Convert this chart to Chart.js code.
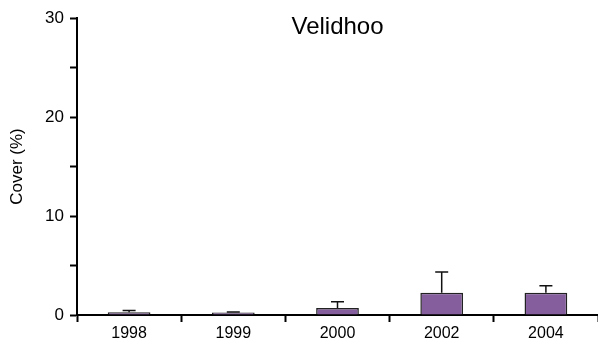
<!DOCTYPE html>
<html>
<head>
<meta charset="utf-8">
<script src="https://cdn.jsdelivr.net/npm/chart.js@4"></script>
<style>
  html, body { margin: 0; padding: 0; background: #fff; }
  canvas { display: block; }
</style>
</head>
<body>
<canvas id="chart" width="598" height="344"></canvas>
<script>
// mean cover per survey year, plus upper error (SE)
const years = ['1998', '1999', '2000', '2002', '2004'];
const cover = [0.27, 0.25, 0.7, 2.25, 2.25];
const coverErr = [0.18, 0.05, 0.65, 2.1, 0.7];
const yTicks = [0, 10, 20, 30];

const FONT = '"Liberation Sans", Arial, Helvetica, sans-serif';

// one-sided error bars drawn on top of each bar
const errorBars = {
  id: 'errorBars',
  afterDatasetsDraw(chart) {
    const ctx = chart.ctx;
    const y = chart.scales.y;
    const meta = chart.getDatasetMeta(0);
    ctx.save();
    ctx.strokeStyle = '#111';
    ctx.lineWidth = 1.5;
    meta.data.forEach((bar, i) => {
      const top = y.getPixelForValue(cover[i]);
      const up = y.getPixelForValue(cover[i] + coverErr[i]);
      ctx.beginPath();
      ctx.moveTo(bar.x, top);
      ctx.lineTo(bar.x, up);
      ctx.moveTo(bar.x - 6.5, up);
      ctx.lineTo(bar.x + 6.5, up);
      ctx.stroke();
    });
    ctx.restore();
  }
};

// site name sits inside the plot, near the top
const siteTitle = {
  id: 'siteTitle',
  afterDraw(chart) {
    const a = chart.chartArea;
    const ctx = chart.ctx;
    ctx.save();
    ctx.font = '24px ' + FONT;
    ctx.fillStyle = '#000';
    ctx.textAlign = 'center';
    ctx.textBaseline = 'middle';
    ctx.fillText('Velidhoo', (a.left + a.right) / 2, 27);
    ctx.restore();
  }
};

new Chart(document.getElementById('chart'), {
  type: 'bar',
  data: {
    labels: years,
    datasets: [{
      data: cover,
      backgroundColor: 'rgb(133,94,158)',
      borderColor: '#222',
      borderWidth: 1.5,
      borderSkipped: 'bottom',
      barPercentage: 0.41,
      categoryPercentage: 1
    }]
  },
  options: {
    responsive: false,
    devicePixelRatio: 1,
    animation: false,
    layout: { padding: { top: 18, right: 0, left: 0, bottom: 0 } },
    plugins: {
      legend: { display: false },
      tooltip: { enabled: false }
    },
    scales: {
      x: {
        offset: true,
        grid: {
          offset: true,
          drawOnChartArea: false,
          drawTicks: true,
          tickLength: 7,
          tickWidth: 2,
          tickColor: '#000'
        },
        border: { color: '#000', width: 2 },
        ticks: {
          color: '#000',
          padding: 2,
          font: { family: FONT, size: 16 }
        },
        afterFit(scale) { scale.height = 29; }
      },
      y: {
        min: 0,
        max: 30,
        grid: {
          drawOnChartArea: false,
          drawTicks: true,
          tickLength: 7,
          tickWidth: 2,
          tickColor: '#000'
        },
        border: { color: '#000', width: 2 },
        ticks: {
          stepSize: 5,
          color: '#000',
          padding: 6,
          font: { family: FONT, size: 17 },
          callback: v => yTicks.includes(v) ? String(v) : ''
        },
        title: {
          display: true,
          text: 'Cover (%)',
          color: '#000',
          padding: { top: 7, bottom: 0 },
          font: { family: FONT, size: 17 }
        },
        afterFit(scale) { scale.width = 77; }
      }
    }
  },
  plugins: [errorBars, siteTitle]
});
</script>
</body>
</html>
